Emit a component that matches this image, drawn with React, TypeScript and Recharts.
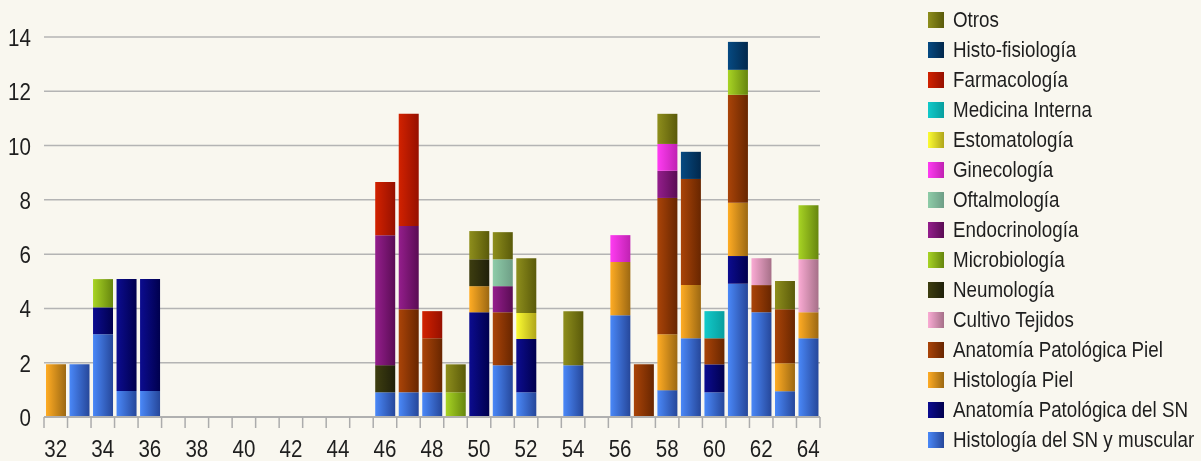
import React from 'react';
import { BarChart, Bar, XAxis, YAxis, CartesianGrid, Legend } from 'recharts';

const categories = [32, 33, 34, 35, 36, 37, 38, 39, 40, 41, 42, 43, 44, 45, 46, 47, 48, 49, 50, 51, 52, 53, 54, 55, 56, 57, 58, 59, 60, 61, 62, 63, 64];

const yTicks = [0, 2, 4, 6, 8, 10, 12, 14];

// values per category 32..64
const histologiaSN = [0, 1.94, 3.05, 0.96, 0.96, 0, 0, 0, 0, 0, 0, 0, 0, 0, 0.91, 0.91, 0.91, 0, 0, 1.91, 0.91, 0, 1.91, 0, 3.75, 0, 0.99, 2.9, 0.91, 4.91, 3.86, 0.95, 2.9];
const anatomiaSN = [0, 0, 0.99, 4.12, 4.12, 0, 0, 0, 0, 0, 0, 0, 0, 0, 0, 0, 0, 0, 3.86, 0, 1.96, 0, 0, 0, 0, 0, 0, 0, 1.03, 1.02, 0, 0, 0];
const histologiaPiel = [1.94, 0, 0, 0, 0, 0, 0, 0, 0, 0, 0, 0, 0, 0, 0, 0, 0, 0, 0.96, 0, 0, 0, 0, 0, 1.96, 0, 2.06, 1.96, 0, 1.96, 0, 1.03, 0.96];
const anatomiaPiel = [0, 0, 0, 0, 0, 0, 0, 0, 0, 0, 0, 0, 0, 0, 0, 3.06, 1.99, 0, 0, 1.95, 0, 0, 0, 0, 0, 1.94, 5.02, 3.91, 0.96, 3.98, 1.0, 1.99, 0];
const cultivoTejidos = [0, 0, 0, 0, 0, 0, 0, 0, 0, 0, 0, 0, 0, 0, 0, 0, 0, 0, 0, 0, 0, 0, 0, 0, 0, 0, 0, 0, 0, 0, 0.99, 0, 1.95];
const neumologia = [0, 0, 0, 0, 0, 0, 0, 0, 0, 0, 0, 0, 0, 0, 1.0, 0, 0, 0, 0.99, 0, 0, 0, 0, 0, 0, 0, 0, 0, 0, 0, 0, 0, 0];
const microbiologia = [0, 0, 1.04, 0, 0, 0, 0, 0, 0, 0, 0, 0, 0, 0, 0, 0, 0, 0.91, 0, 0, 0, 0, 0, 0, 0, 0, 0, 0, 0, 0.92, 0, 0, 1.99];
const endocrinologia = [0, 0, 0, 0, 0, 0, 0, 0, 0, 0, 0, 0, 0, 0, 4.79, 3.07, 0, 0, 0, 0.96, 0, 0, 0, 0, 0, 0, 1.0, 0, 0, 0, 0, 0, 0];
const oftalmologia = [0, 0, 0, 0, 0, 0, 0, 0, 0, 0, 0, 0, 0, 0, 0, 0, 0, 0, 0, 0.99, 0, 0, 0, 0, 0, 0, 0, 0, 0, 0, 0, 0, 0];
const ginecologia = [0, 0, 0, 0, 0, 0, 0, 0, 0, 0, 0, 0, 0, 0, 0, 0, 0, 0, 0, 0, 0, 0, 0, 0, 0.99, 0, 0.99, 0, 0, 0, 0, 0, 0];
const estomatologia = [0, 0, 0, 0, 0, 0, 0, 0, 0, 0, 0, 0, 0, 0, 0, 0, 0, 0, 0, 0, 0.96, 0, 0, 0, 0, 0, 0, 0, 0, 0, 0, 0, 0];
const medicinaInterna = [0, 0, 0, 0, 0, 0, 0, 0, 0, 0, 0, 0, 0, 0, 0, 0, 0, 0, 0, 0, 0, 0, 0, 0, 0, 0, 0, 0, 1.0, 0, 0, 0, 0];
const farmacologia = [0, 0, 0, 0, 0, 0, 0, 0, 0, 0, 0, 0, 0, 0, 1.96, 4.13, 1.0, 0, 0, 0, 0, 0, 0, 0, 0, 0, 0, 0, 0, 0, 0, 0, 0];
const histoFisiologia = [0, 0, 0, 0, 0, 0, 0, 0, 0, 0, 0, 0, 0, 0, 0, 0, 0, 0, 0, 0, 0, 0, 0, 0, 0, 0, 0, 1.0, 0, 1.03, 0, 0, 0];
const otros = [0, 0, 0, 0, 0, 0, 0, 0, 0, 0, 0, 0, 0, 0, 0, 0, 0, 1.03, 1.04, 1.0, 2.02, 0, 1.99, 0, 0, 0, 1.11, 0, 0, 0, 0, 1.04, 0];

// stacking order, bottom to top
const series = [
  { key: 'hsn', name: 'Histología del SN y muscular', data: histologiaSN, c1: '#4a88f8', c2: '#26479a' },
  { key: 'apsn', name: 'Anatomía Patológica del SN', data: anatomiaSN, c1: '#0c0c90', c2: '#00004e' },
  { key: 'hp', name: 'Histología Piel', data: histologiaPiel, c1: '#ffac24', c2: '#9c6812' },
  { key: 'app', name: 'Anatomía Patológica Piel', data: anatomiaPiel, c1: '#aa4408', c2: '#682600' },
  { key: 'ct', name: 'Cultivo Tejidos', data: cultivoTejidos, c1: '#faabd4', c2: '#a67088' },
  { key: 'neu', name: 'Neumología', data: neumologia, c1: '#3e3e10', c2: '#20200a' },
  { key: 'mic', name: 'Microbiología', data: microbiologia, c1: '#a8d424', c2: '#66860e' },
  { key: 'end', name: 'Endocrinología', data: endocrinologia, c1: '#941e8c', c2: '#5a0c54' },
  { key: 'oft', name: 'Oftalmología', data: oftalmologia, c1: '#8ecca8', c2: '#6e9e86' },
  { key: 'gin', name: 'Ginecología', data: ginecologia, c1: '#ff3cf2', c2: '#c022b2' },
  { key: 'est', name: 'Estomatología', data: estomatologia, c1: '#fcfc32', c2: '#b0a61a' },
  { key: 'med', name: 'Medicina Interna', data: medicinaInterna, c1: '#12caca', c2: '#089e9e' },
  { key: 'far', name: 'Farmacología', data: farmacologia, c1: '#d22200', c2: '#961000' },
  { key: 'hf', name: 'Histo-fisiología', data: histoFisiologia, c1: '#064a82', c2: '#02284c' },
  { key: 'otr', name: 'Otros', data: otros, c1: '#8e8e1c', c2: '#5a5a0a' },
];

const rows = categories.map((cat, i) => {
  const r: Record<string, number> = { cat };
  series.forEach((s) => { r[s.key] = s.data[i]; });
  return r;
});

const FONT = '"Liberation Sans", Arial, sans-serif';
const SQUEEZE = 0.84;
const LEGEND_SQUEEZE = 0.835;
const CHART_W = 1185;
const CHART_H = 453;
const MARGIN = { top: 29, right: 373, bottom: 0, left: 0 };
const YAXIS_W = 36;
const PLOT_W = CHART_W - MARGIN.right - MARGIN.left - YAXIS_W;
const BAND = PLOT_W / categories.length;

const XTick = (props: any) => {
  const { x, y, payload, index } = props;
  const left = x - BAND / 2;
  const isLast = index === categories.length - 1;
  return (
    <g>
      <line x1={left} x2={left} y1={y} y2={y + 11} stroke="#acacac" strokeWidth={1.5} />
      {isLast && <line x1={x + BAND / 2} x2={x + BAND / 2} y1={y} y2={y + 11} stroke="#acacac" strokeWidth={1.5} />}
      {Number(payload.value) % 2 === 0 && (
        <text transform={`translate(${x} ${y + 40}) scale(${SQUEEZE} 1)`} textAnchor="middle" fontFamily={FONT} fontSize={24.5} fill="#1e1e1e">
          {payload.value}
        </text>
      )}
    </g>
  );
};

const YTick = (props: any) => {
  const { x, y, payload } = props;
  return (
    <text transform={`translate(${x} ${y + 9}) scale(${SQUEEZE} 1)`} textAnchor="end" fontFamily={FONT} fontSize={24.5} fill="#1e1e1e">
      {payload.value}
    </text>
  );
};

const LegendContent = () => {
  const items = [...series].reverse();
  return (
    <div style={{ fontFamily: FONT }}>
      {items.map((s) => (
        <div key={s.key} style={{ display: 'flex', alignItems: 'center', height: 30, whiteSpace: 'nowrap' }}>
          <div style={{ flex: '0 0 16px', width: 16, height: 16, background: `linear-gradient(to right, ${s.c1}, ${s.c2})`, marginRight: 9 }} />
          <span style={{ flex: '0 0 auto', display: 'inline-block', fontSize: 22.5, color: '#1e1e1e', transform: `scaleX(${LEGEND_SQUEEZE})`, transformOrigin: 'left center' }}>{s.name}</span>
        </div>
      ))}
    </div>
  );
};

export default function App() {
  return (
    <>
      <div style={{ position: 'fixed', left: 0, top: 0, right: 0, bottom: 0, background: '#f9f7ef', zIndex: -1 }} />
      <BarChart width={CHART_W} height={CHART_H} data={rows} margin={MARGIN} barSize={20}>
        <defs>
          {series.map((s) => (
            <linearGradient key={s.key} id={`g-${s.key}`} x1="0" y1="0" x2="1" y2="0">
              <stop offset="0%" stopColor={s.c1} />
              <stop offset="100%" stopColor={s.c2} />
            </linearGradient>
          ))}
        </defs>
        <CartesianGrid vertical={false} stroke="#b4b4b4" strokeWidth={1.5} />
        <XAxis
          dataKey="cat"
          interval={0}
          tickLine={false}
          tickSize={0}
          tickMargin={0}
          axisLine={{ stroke: '#b0b0b0', strokeWidth: 2 }}
          tick={<XTick />}
          height={44}
        />
        <YAxis
          width={YAXIS_W}
          domain={[0, 14]}
          ticks={yTicks}
          interval={0}
          axisLine={false}
          tickLine={false}
          tickSize={0}
          tickMargin={13}
          tick={<YTick />}
        />
        <Legend
          layout="vertical"
          align="center"
          verticalAlign="middle"
          content={<LegendContent />}
          wrapperStyle={{ position: 'fixed', left: 928, top: 5, width: 273, height: 450, overflow: 'visible' }}
        />
        {series.map((s) => (
          <Bar key={s.key} dataKey={s.key} name={s.name} stackId="a" fill={`url(#g-${s.key})`} isAnimationActive={false} />
        ))}
      </BarChart>
    </>
  );
}
